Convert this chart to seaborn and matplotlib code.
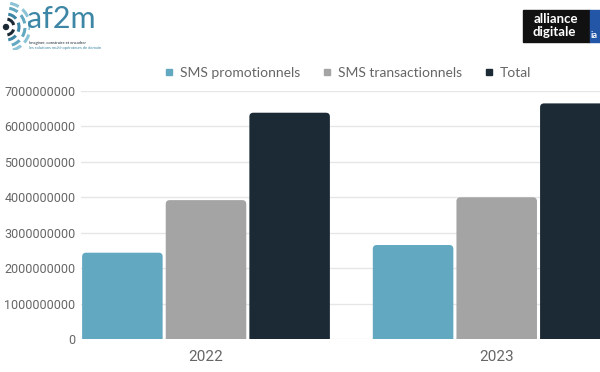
import matplotlib
matplotlib.use("Agg")
import matplotlib.pyplot as plt
import seaborn as sns
import pandas as pd
from matplotlib.patches import FancyBboxPatch, Arc, Rectangle
from matplotlib.lines import Line2D

# ---- data ----
years = ["2022", "2023"]
series = ["SMS promotionnels", "SMS transactionnels", "Total"]
promo = [2.436e9, 2.653e9]
trans = [3.92e9, 4.0e9]
total = [6.387e9, 6.65e9]
y_ticks = [0, 1e9, 2e9, 3e9, 4e9, 5e9, 6e9, 7e9]
colors = ["#63a8c1", "#a5a4a5", "#1b2a35"]

rows = []
for s, vals in zip(series, [promo, trans, total]):
    for y, v in zip(years, vals):
        rows.append({"year": y, "serie": s, "value": v})
df = pd.DataFrame(rows)

sns.set_theme(style="white")
plt.rcParams["font.family"] = ["Lato", "DejaVu Sans"]

fig = plt.figure(figsize=(6, 3.72), dpi=100)
W, H = 600, 372
ax = fig.add_axes([81 / W, 33 / H, 541 / W, 248 / H])

sns.barplot(data=df, x="year", y="value", hue="serie", order=years,
            hue_order=series, palette=colors, width=0.863, gap=0.037,
            ax=ax, legend=False, saturation=1)

ax.set_xlim(-0.43, 1.431)
ax.set_ylim(0, 7e9)

# rounded tops
px_x = 1.861 / 541
px_y = 7e9 / 248
r = 4
rx, ry = r * px_x, r * px_y
for p in list(ax.patches):
    x, w, h = p.get_x(), p.get_width(), p.get_height()
    fc = p.get_facecolor()
    p.remove()
    fb = FancyBboxPatch((x, -ry * 2), w, h + ry * 2,
                        boxstyle=f"round,pad=0,rounding_size={rx}",
                        mutation_aspect=ry / rx, facecolor=fc,
                        edgecolor="none", zorder=2)
    ax.add_patch(fb)

ax.set_yticks(y_ticks)
ax.set_yticklabels([f"{int(v)}" for v in y_ticks])
ax.grid(axis="y", color="#e6e6e6", linewidth=1, zorder=0)
ax.set_axisbelow(True)
for s in ax.spines.values():
    s.set_visible(False)
ax.tick_params(axis="y", length=0, pad=4, labelsize=9, labelcolor="#666666")
ax.tick_params(axis="x", length=0, pad=8, labelsize=11, labelcolor="#666666")
for t in ax.get_yticklabels() + ax.get_xticklabels():
    t.set_fontfamily(["Roboto", "DejaVu Sans"])
ax.set_xlabel("")
ax.set_ylabel("")

handles = [Line2D([], [], marker="s", linestyle="none", markersize=4.5,
                  markerfacecolor=c, markeredgecolor=c) for c in colors]
fig.legend(handles, series, loc="center", bbox_to_anchor=(348 / W, 1 - 73 / H),
           ncol=3, frameon=False, fontsize=10, labelcolor="#666666",
           handlelength=0.6, handletextpad=0.5, columnspacing=1.6)

# ---- logos (approximation) ----
fig.text(27 / W, 1 - 19 / H, "af2m", fontsize=22, color="#3d86a6",
         ha="left", va="center", fontfamily="Lato")
fig.text(29 / W, 1 - 43 / H, "Imaginer, construire et encadrer", fontsize=3,
         color="#1b2a35", ha="left", va="center")
fig.text(29 / W, 1 - 48 / H, "les solutions multi-opérateurs de demain", fontsize=3,
         color="#3d86a6", ha="left", va="center")
lax = fig.add_axes([0, 1 - 50 / H, 30 / W, 50 / H])
lax.set_xlim(0, 30)
lax.set_ylim(50, 0)
lax.axis("off")
lax.add_patch(plt.Circle((6, 27), 2.5, color="#1b2a35"))
for rad, col in [(8, "#1b2a35"), (13, "#3d86a6"), (19, "#63a8c1"), (24, "#8cc3d6")]:
    lax.add_patch(Arc((6, 27), 2 * rad, 2 * rad, theta1=-80, theta2=80,
                      color=col, linewidth=2.2, linestyle=(0, (3, 1.5))))

rax = fig.add_axes([520 / W, 1 - 46 / H, 80 / W, 40 / H])
rax.set_xlim(520, 600)
rax.set_ylim(46, 6)
rax.axis("off")
rax.add_patch(Rectangle((523, 10), 67, 32, color="#111111"))
rax.add_patch(Rectangle((590, 10), 12, 32, color="#2456a8"))
rax.text(556, 19, "alliance", color="white", fontsize=9.5, fontweight="bold",
         ha="center", va="center", fontfamily="Lato")
rax.text(554, 32, "digitale", color="white", fontsize=9.5, fontweight="bold",
         ha="center", va="center", fontfamily="Lato")
rax.text(590.8, 35, "ia", color="white", fontsize=6.5, fontweight="bold",
         ha="left", va="center", fontfamily="Lato")

fig.savefig("out.png", dpi=100)
